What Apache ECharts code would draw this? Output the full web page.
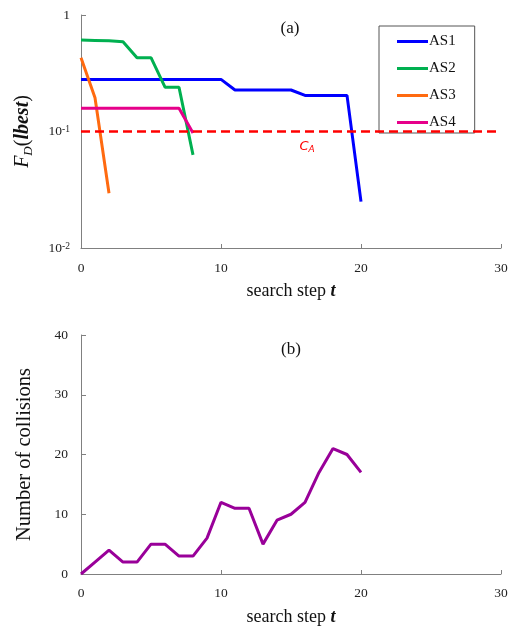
<!DOCTYPE html>
<html>
<head>
<meta charset="utf-8">
<script src="https://cdn.jsdelivr.net/npm/echarts@6/dist/echarts.min.js"></script>
<style>
html,body{margin:0;padding:0;background:#fff;}
#c{width:512px;height:627px;}
</style>
</head>
<body>
<div id="c"></div>
<script>
// ---- data ----
const stepsAS1 = [0,1,2,3,4,5,6,7,8,9,10,11,12,13,14,15,16,17,18,19,20];
const as1 = [0.28,0.28,0.28,0.28,0.28,0.28,0.28,0.28,0.28,0.28,0.28,0.227,0.227,0.227,0.227,0.227,0.204,0.204,0.204,0.204,0.025];
const stepsAS2 = [0,1,2,3,4,5,6,7,8];
const as2 = [0.61,0.605,0.60,0.59,0.43,0.43,0.24,0.24,0.063];
const stepsAS3 = [0,1,2];
const as3 = [0.43,0.195,0.0295];
const stepsAS4 = [0,1,2,3,4,5,6,7,8];
const as4 = [0.158,0.158,0.158,0.158,0.158,0.158,0.158,0.158,0.097];
const caValue = 0.1;
const stepsColl = [0,1,2,3,4,5,6,7,8,9,10,11,12,13,14,15,16,17,18,19,20];
const collisions = [0,2,4,2,2,5,5,3,3,6,12,11,11,5,9,10,12,17,21,20,17];
const seriesNames = ['AS1','AS2','AS3','AS4'];
const xTickLabels = ['0','10','20','30'];
const logTickLabels = ['10{sup|-2}','10{sup|-1}','1'];
const collTickLabels = ['0','10','20','30','40'];

const FONT = '"Liberation Serif","Times New Roman",serif';
const axisGray = '#808080';
const colors = ['#0000FF','#00B050','#FF6A10','#E6008A'];

function pairs(xs, ys){ return xs.map((x,i)=>[x, ys[i]]); }

function xAxisCommon(margin){
  return {
  type:'value', min:0, max:30, interval:10,
  axisLine:{show:true, lineStyle:{color:axisGray, width:1}},
  axisTick:{show:true, inside:true, length:4, lineStyle:{color:axisGray}},
  splitLine:{show:false},
  axisLabel:{fontFamily:FONT, fontSize:13.5, color:'#222', margin:margin,
    formatter:(v)=>xTickLabels[Math.round(v/10)]},
  name:'search step {bi|t}', nameLocation:'middle', nameGap:34,
  nameTextStyle:{fontFamily:FONT, fontSize:18, color:'#111',
    rich:{bi:{fontFamily:FONT, fontSize:18, fontStyle:'italic', fontWeight:'bold', color:'#111'}}}
  };
}

const option = {
  animation:false,
  backgroundColor:'#fff',
  grid:[
    {left:81, right:11, top:15, height:233},
    {left:81, right:11, top:335, height:240}
  ],
  title:[
    {text:'(a)', left:285, top:24, textAlign:'center', textVerticalAlign:'middle',
      textStyle:{fontFamily:FONT, fontSize:17, fontWeight:'normal', color:'#111'}},
    {text:'(b)', left:286, top:345, textAlign:'center', textVerticalAlign:'middle',
      textStyle:{fontFamily:FONT, fontSize:17, fontWeight:'normal', color:'#111'}}
  ],
  legend:{
    data:seriesNames, orient:'vertical', left:379, top:26,
    backgroundColor:'#fff', borderColor:'#555', borderWidth:1, borderRadius:0,
    padding:[8,19,3,18], itemWidth:31, itemHeight:3, itemGap:12,
    icon:'rect', z:1,
    textStyle:{fontFamily:FONT, fontSize:15, color:'#111', padding:[0,0,0,-4], lineHeight:15}
  },
  xAxis:[
    Object.assign({gridIndex:0}, xAxisCommon(13)),
    Object.assign({gridIndex:1}, xAxisCommon(12))
  ],
  yAxis:[
    {gridIndex:0, type:'log', logBase:10, min:0.01, max:1,
      axisLine:{show:true, lineStyle:{color:axisGray, width:1}},
      axisTick:{show:true, inside:true, length:5, lineStyle:{color:axisGray}},
      splitLine:{show:false}, minorTick:{show:false},
      axisLabel:{fontFamily:FONT, fontSize:13.5, color:'#222', margin:11,
        formatter:(v)=>logTickLabels[Math.round(Math.log10(v))+2],
        rich:{sup:{fontFamily:FONT, fontSize:9.5, lineHeight:10, verticalAlign:'top', color:'#222'}}},
      name:'{i|F}{sub|D}{n|(}{bi|lbest}{n|)}', nameLocation:'middle', nameGap:46, nameRotate:90,
      nameTextStyle:{fontFamily:FONT, fontSize:20, color:'#111',
        rich:{
          i:{fontFamily:FONT, fontSize:20, fontStyle:'italic', color:'#111', lineHeight:24},
          sub:{fontFamily:FONT, fontSize:13, fontStyle:'italic', color:'#111', lineHeight:14, verticalAlign:'bottom'},
          n:{fontFamily:FONT, fontSize:20, color:'#111', lineHeight:24},
          bi:{fontFamily:FONT, fontSize:20, fontStyle:'italic', fontWeight:'bold', color:'#111', lineHeight:24}
        }}
    },
    {gridIndex:1, type:'value', min:0, max:40, interval:10,
      axisLine:{show:true, lineStyle:{color:axisGray, width:1}},
      axisTick:{show:true, inside:true, length:5, lineStyle:{color:axisGray}},
      splitLine:{show:false},
      axisLabel:{fontFamily:FONT, fontSize:13.5, color:'#222', margin:13,
        formatter:(v)=>collTickLabels[Math.round(v/10)]},
      name:'Number of collisions', nameLocation:'middle', nameGap:46,
      nameTextStyle:{fontFamily:FONT, fontSize:20.5, color:'#111'}
    }
  ],
  series:[
    {name:'AS1', type:'line', xAxisIndex:0, yAxisIndex:0, data:pairs(stepsAS1, as1),
      symbol:'none', lineStyle:{color:colors[0], width:3}, itemStyle:{color:colors[0]}, z:3},
    {name:'AS2', type:'line', xAxisIndex:0, yAxisIndex:0, data:pairs(stepsAS2, as2),
      symbol:'none', lineStyle:{color:colors[1], width:3}, itemStyle:{color:colors[1]}, z:3},
    {name:'AS3', type:'line', xAxisIndex:0, yAxisIndex:0, data:pairs(stepsAS3, as3),
      symbol:'none', lineStyle:{color:colors[2], width:3}, itemStyle:{color:colors[2]}, z:3},
    {name:'AS4', type:'line', xAxisIndex:0, yAxisIndex:0, data:pairs(stepsAS4, as4),
      symbol:'none', lineStyle:{color:colors[3], width:3}, itemStyle:{color:colors[3]}, z:4,
      markLine:{
        silent:true, symbol:['none','none'], z:5,
        lineStyle:{color:'#FF0000', width:2.5, type:[9,5]},
        label:{show:true, position:'insideMiddleBottom', distance:6, offset:[16,1],
          formatter:'{c|C}{s|A}',
          rich:{
            c:{fontFamily:'"DejaVu Sans",sans-serif', fontSize:13, fontStyle:'italic', color:'#FF0000', lineHeight:16},
            s:{fontFamily:'"DejaVu Sans",sans-serif', fontSize:9, fontStyle:'italic', color:'#FF0000', lineHeight:10, verticalAlign:'bottom'}
          }},
        data:[{yAxis:caValue}]
      }},
    {name:'collisions', type:'line', xAxisIndex:1, yAxisIndex:1, data:pairs(stepsColl, collisions),
      symbol:'none', lineStyle:{color:'#990099', width:3}, itemStyle:{color:'#990099'}}
  ]
};

const chart = echarts.init(document.getElementById('c'), null, {renderer:'canvas'});
chart.setOption(option);
</script>
</body>
</html>
